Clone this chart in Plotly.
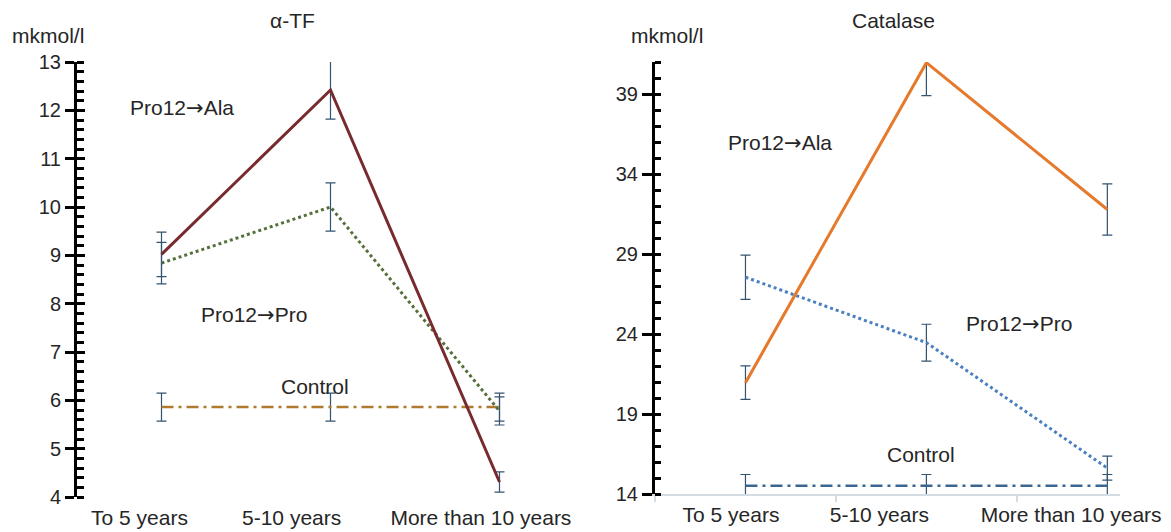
import plotly.graph_objects as go

# ---------------- data ----------------
categories = ["To 5 years", "5-10 years", "More than 10 years"]

# alpha-TF (mkmol/l)
tf_ala = [9.02, 12.42, 4.31]
tf_ala_err = [0.46, 0.60, 0.21]
tf_pro = [8.84, 10.0, 5.78]
tf_pro_err = [0.43, 0.50, 0.29]
tf_ctrl = [5.86, 5.86, 5.86]
tf_ctrl_err = [0.29, 0.29, 0.29]

# Catalase (mkmol/l)
cat_ala = [20.96, 40.96, 31.78]
cat_ala_err = [1.05, 2.06, 1.6]
cat_pro = [27.55, 23.46, 15.62]
cat_pro_err = [1.38, 1.15, 0.75]
cat_ctrl = [14.52, 14.52, 14.52]
cat_ctrl_err = [0.70, 0.70, 0.70]

left_ticks = [4, 5, 6, 7, 8, 9, 10, 11, 12, 13]
right_ticks = [14, 19, 24, 29, 34, 39]

# ---------------- styling ----------------
W, H, OFF = 1163, 524, 8  # page body margin of 8px


def px(x):
    return (x - OFF) / W


def py(y):
    return 1 - (y - OFF) / H


xi = list(range(len(categories)))
left_label_pos = [-0.13, 0.77, 1.89]
right_label_pos = [-0.08, 0.74, 1.80]
FONT = "Liberation Sans, Arial, sans-serif"
TXT = "#262626"
ERR = "#34536E"
ARROW = "<span style='font-family:DejaVu Sans'>→</span>"
DASHDOT = "12px,5px,3px,5px"


def err(v):
    return dict(type="data", array=v, visible=True, color=ERR, thickness=1.2, width=5)


fig = go.Figure()

# left chart
fig.add_trace(go.Scatter(x=xi, y=tf_ctrl, error_y=err(tf_ctrl_err), mode="lines",
                         line=dict(color="#AE7A30", width=2.5, dash=DASHDOT), xaxis="x", yaxis="y"))
fig.add_trace(go.Scatter(x=xi, y=tf_pro, error_y=err(tf_pro_err), mode="lines",
                         line=dict(color="#55703A", width=3, dash="dot"), xaxis="x", yaxis="y"))
fig.add_trace(go.Scatter(x=xi, y=tf_ala, error_y=err(tf_ala_err), mode="lines",
                         line=dict(color="#772B2E", width=3), xaxis="x", yaxis="y"))
# invisible trace for the inner major-tick axis
fig.add_trace(go.Scatter(x=xi, y=tf_ctrl, mode="lines", line=dict(width=0), opacity=0,
                         hoverinfo="skip", xaxis="x", yaxis="y3"))

# right chart
fig.add_trace(go.Scatter(x=xi, y=cat_ctrl, error_y=err(cat_ctrl_err), mode="lines",
                         line=dict(color="#3B6690", width=2.5, dash=DASHDOT), xaxis="x2", yaxis="y2"))
fig.add_trace(go.Scatter(x=xi, y=cat_pro, error_y=err(cat_pro_err), mode="lines",
                         line=dict(color="#4A80C0", width=3, dash="dot"), xaxis="x2", yaxis="y2"))
fig.add_trace(go.Scatter(x=xi, y=cat_ala, error_y=err(cat_ala_err), mode="lines",
                         line=dict(color="#E57A2C", width=3), xaxis="x2", yaxis="y2"))
# invisible trace for the label axis
fig.add_trace(go.Scatter(x=xi, y=cat_ctrl, mode="lines", line=dict(width=0), opacity=0,
                         hoverinfo="skip", xaxis="x3", yaxis="y2"))

xtickfont = dict(family=FONT, size=21, color=TXT)
ytickfont = dict(family=FONT, size=20, color=TXT)

fig.update_layout(
    width=W, height=H,
    margin=dict(l=0, r=0, t=0, b=0),
    paper_bgcolor="white", plot_bgcolor="white",
    showlegend=False,
    font=dict(family=FONT, color=TXT),
    xaxis=dict(domain=[px(77), px(584)], range=[-0.5, 2.5], anchor="y",
               tickmode="array", tickvals=left_label_pos, ticktext=categories,
               showline=False, showgrid=False, zeroline=False, ticks="",
               ticklabelstandoff=6,
               tickfont=xtickfont, automargin=False),
    yaxis=dict(domain=[py(497), py(62)], range=[4, 13], anchor="x",
               tickmode="array", tickvals=left_ticks,
               showline=True, linecolor="black", linewidth=3,
               ticks="outside", ticklen=9, tickwidth=3, tickcolor="black",
               minor=dict(dtick=0.2, ticks="inside", ticklen=7, tickwidth=2.5, tickcolor="black"),
               showgrid=False, zeroline=False, tickfont=ytickfont, automargin=False),
    yaxis3=dict(overlaying="y", range=[4, 13], anchor="x", side="left",
                tickmode="array", tickvals=left_ticks, showticklabels=False,
                showline=False, ticks="inside", ticklen=8, tickwidth=3, tickcolor="black",
                showgrid=False, zeroline=False, automargin=False),
    xaxis2=dict(domain=[px(655), px(1120)], range=[-0.5, 2.07], anchor="y2",
                tickmode="array", tickvals=[], showticklabels=False,
                showline=True, linecolor="#D3DBE3", linewidth=1.5,
                ticks="",
                minor=dict(tickmode="array", tickvals=[-0.5, 0.5, 1.5], ticks="outside",
                           ticklen=6, tickwidth=1.5, tickcolor="#D3DBE3"),
                showgrid=False, zeroline=False, automargin=False),
    xaxis3=dict(overlaying="x2", range=[-0.5, 2.07], anchor="y2", side="bottom",
                tickmode="array", tickvals=right_label_pos, ticktext=categories,
                showline=False, showgrid=False, zeroline=False, ticks="",
                ticklabelstandoff=6,
                tickfont=xtickfont, automargin=False),
    yaxis2=dict(domain=[py(494), py(62)], range=[14, 41], anchor="x2",
                tickmode="array", tickvals=right_ticks,
                showline=True, linecolor="black", linewidth=3,
                ticks="outside", ticklen=10, tickwidth=3, tickcolor="black",
                minor=dict(dtick=1, ticks="inside", ticklen=6, tickwidth=3, tickcolor="black"),
                showgrid=False, zeroline=False, tickfont=ytickfont, automargin=False),
)

annfont = dict(family=FONT, size=21, color=TXT)
anns = [
    dict(text="α-TF", x=px(292), y=py(20), xref="paper", yref="paper"),
    dict(text="Catalase", x=px(893), y=py(20), xref="paper", yref="paper"),
    dict(text="mkmol/l", x=px(48), y=py(35), xref="paper", yref="paper"),
    dict(text="mkmol/l", x=px(667), y=py(35), xref="paper", yref="paper"),
    dict(text="Pro12" + ARROW + "Ala", x=0.12, y=12.05, xref="x", yref="y"),
    dict(text="Pro12" + ARROW + "Pro", x=0.55, y=7.77, xref="x", yref="y"),
    dict(text="Control", x=0.91, y=6.28, xref="x", yref="y"),
    dict(text="Pro12" + ARROW + "Ala", x=0.19, y=35.94, xref="x2", yref="y2"),
    dict(text="Pro12" + ARROW + "Pro", x=1.51, y=24.63, xref="x2", yref="y2"),
    dict(text="Control", x=0.97, y=16.44, xref="x2", yref="y2"),
]
for a in anns:
    fig.add_annotation(showarrow=False, font=annfont, xanchor="center", yanchor="middle", **a)

fig.write_html("out.html")
